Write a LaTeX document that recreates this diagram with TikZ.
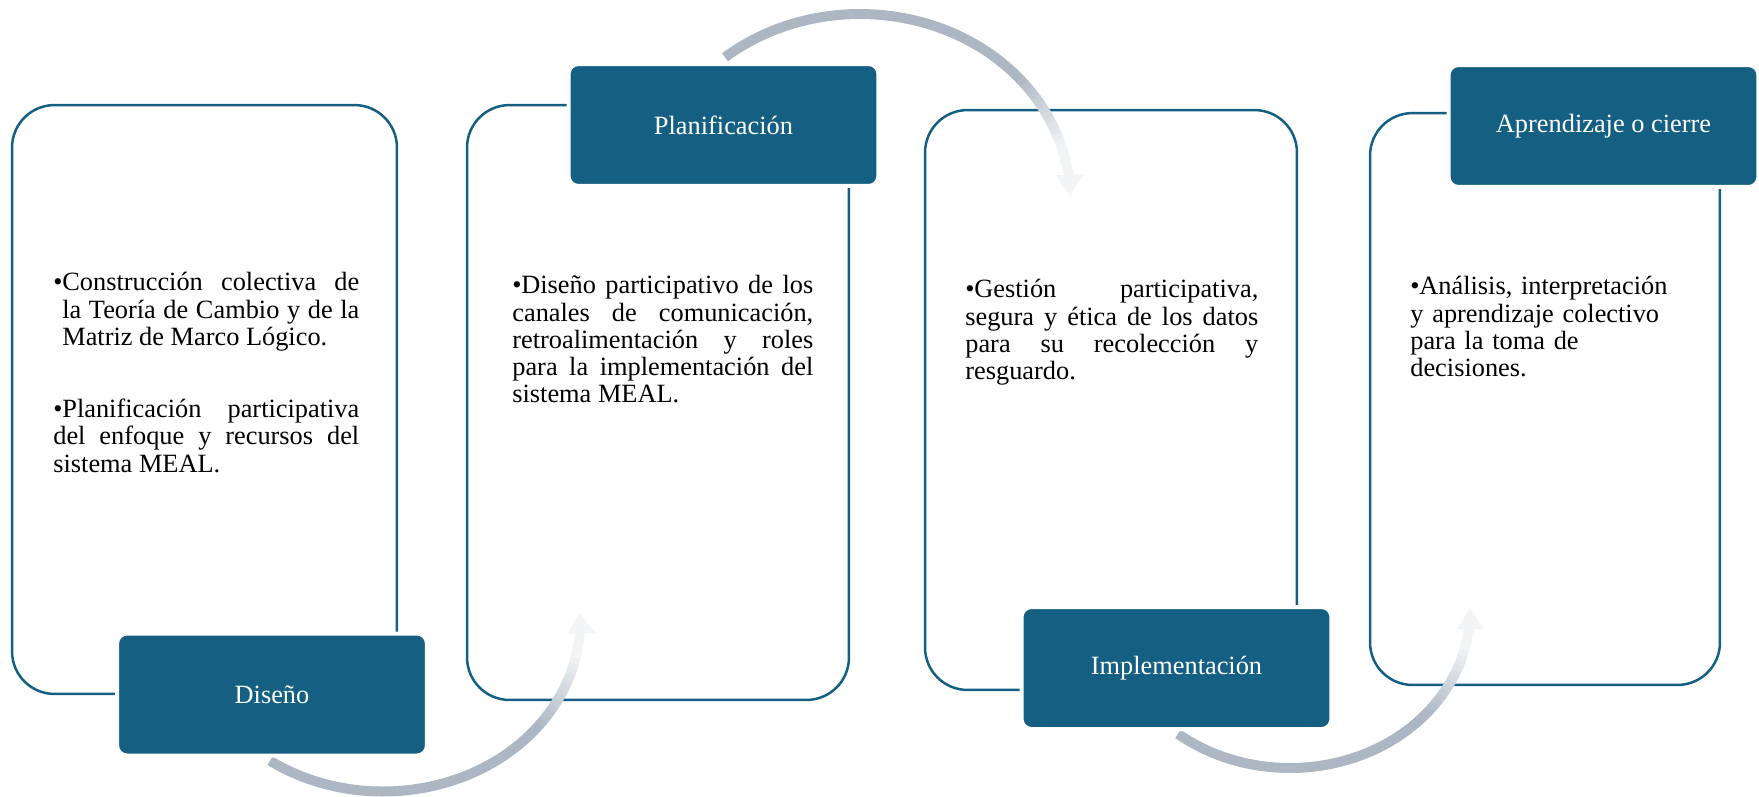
\documentclass[tikz,border=0pt]{standalone}
\usepackage{fontspec}
\setmainfont{Liberation Serif}
\usetikzlibrary{arrows.meta,calc,backgrounds}

\definecolor{frameblue}{HTML}{156082}
\definecolor{flowgray}{HTML}{ACB7C3}

\newcommand{\bitem}{\par\hangindent=0.18cm\hangafter=1\noindent\strut\makebox[0.18cm][l]{•}}

\tikzset{
  card/.style={draw=frameblue, line width=0.05cm, rounded corners=0.85cm},
  head/.style={fill=frameblue, draw=white, line width=0.08cm, rounded corners=0.2cm,
    minimum width=6.2cm, minimum height=2.44cm, text=white, inner sep=0pt},
  bodytext/.style={anchor=north west, inner sep=0pt, align=justify},
  flowarc/.style={draw=flowgray, line width=0.2cm},
}

\begin{document}
\begin{tikzpicture}[x=0.02cm, y=0.02cm, font=\fontsize{15}{15.55}\selectfont]
  \useasboundingbox (0,0) rectangle (1759,-796);

  % step headers
  \node[head] (h1) at (272,-694.5) {Diseño};
  \node[head] (h2) at (723.5,-125) {Planificación};
  \node[head] (h3) at (1176.5,-668) {Implementación};
  \node[head] (h4) at (1603.5,-126) {Aprendizaje o cierre};

  \begin{scope}[on background layer]
    % cards
    \node[card, minimum width=7.70cm, minimum height=11.78cm] (f1) at (204.5,-399.5) {};
    \node[card, minimum width=7.64cm, minimum height=11.90cm] (f2) at (658,-402.5) {};
    \node[card, minimum width=7.44cm, minimum height=11.60cm] (f3) at (1111,-400) {};
    \node[card, minimum width=7.00cm, minimum height=11.44cm] (f4) at (1545,-399) {};

    % curved arrows, fading out towards the tip
    \coordinate (o1) at ($(h1.south)+(111,136)$);
    \coordinate (o2) at ($(h2.north)+(136.5,-137)$);
    \coordinate (o3) at ($(h3.south)+(113.5,120)$);
    \foreach \cc/\rx/\ry/\sa/\fa/\fb/\ea in {o1/197/170/235/323/350/363, o2/210/185/130/40/15/1, o3/180/157/231.5/320/348/361}{
      \draw[flowarc] ($(\cc)+({\sa}:{\rx} and {\ry})$) arc[start angle=\sa, end angle=\fa, x radius=\rx, y radius=\ry];
      \foreach \i in {1,...,14}{
        \pgfmathsetmacro{\angA}{\fa+(\fb-\fa)*(\i-1.2)/14}
        \pgfmathsetmacro{\angB}{\fa+(\fb-\fa)*\i/14}
        \pgfmathsetmacro{\pc}{100-85*\i/14}
        \draw[flowarc, draw=flowgray!\pc!white] ($(\cc)+({\angA}:{\rx} and {\ry})$) arc[start angle=\angA, end angle=\angB, x radius=\rx, y radius=\ry];
      }
      \pgfmathsetmacro{\angC}{\fb-(\fb-\fa)*0.2/14}
      \draw[flowarc, draw=flowgray!15!white, -{Triangle[length=0.42cm, width=0.52cm]}] ($(\cc)+({\angC}:{\rx} and {\ry})$) arc[start angle=\angC, end angle=\ea, x radius=\rx, y radius=\ry];
    }
  \end{scope}

  % card texts
  \node[bodytext, text width=6.12cm] (t1) at (53,-263) {\bitem Construcción colectiva de\linebreak la Teoría de Cambio y de la\linebreak Matriz de Marco Lógico.\par\vspace{0.9cm}\bitem Planificación participativa\linebreak del enfoque y recursos del\linebreak sistema MEAL.};
  \node[bodytext, text width=6.02cm] (t2) at (512,-266) {\bitem Diseño participativo de los\linebreak canales de comunicación,\linebreak retroalimentación y roles\linebreak para la implementación del\linebreak sistema MEAL.};
  \node[bodytext, text width=5.86cm] (t3) at (965,-270) {\bitem Gestión participativa,\linebreak segura y ética de los datos\linebreak para su recolección y\linebreak resguardo.};
  \node[bodytext, text width=5.60cm, align=left] (t4) at (1410,-267) {\bitem Análisis, interpretación\newline y aprendizaje colectivo\newline para la toma de\newline decisiones.};
\end{tikzpicture}
\end{document}
